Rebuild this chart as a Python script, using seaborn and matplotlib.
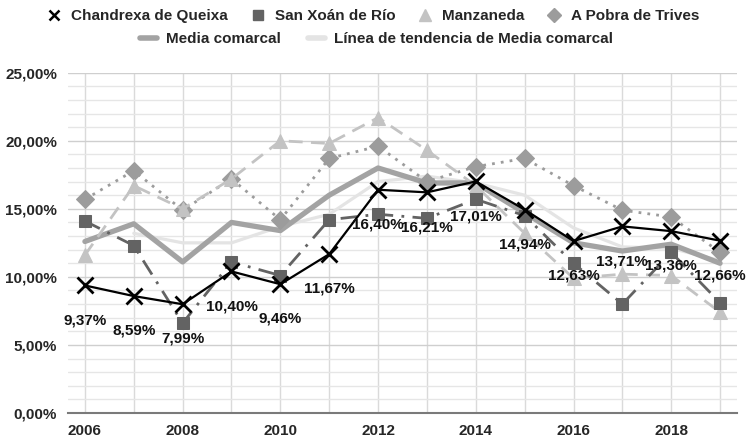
import matplotlib
matplotlib.use("Agg")
import matplotlib.pyplot as plt
import seaborn as sns
import pandas as pd
from matplotlib.lines import Line2D
from matplotlib.ticker import MultipleLocator, FuncFormatter

years = list(range(2006, 2020))
chandrexa = [9.37, 8.59, 7.99, 10.40, 9.46, 11.67, 16.40, 16.21, 17.01, 14.94, 12.63, 13.71, 13.36, 12.66]
san_xoan = [14.1, 12.3, 6.6, 11.1, 10.1, 14.2, 14.6, 14.3, 15.7, 14.5, 11.0, 8.0, 11.8, 8.1]
manzaneda = [11.6, 16.7, 15.0, 17.2, 20.0, 19.8, 21.7, 19.3, 16.7, 13.2, 9.9, 10.2, 10.1, 7.4]
pobra = [15.7, 17.8, 14.9, 17.2, 14.2, 18.7, 19.6, 17.0, 18.1, 18.7, 16.7, 14.9, 14.4, 11.8]
media = [12.6, 13.9, 11.1, 14.0, 13.4, 16.0, 18.0, 16.9, 16.9, 14.7, 12.5, 11.9, 12.4, 11.0]
trend_years = list(range(2007, 2020))
trend = [13.2, 12.5, 12.5, 13.7, 14.6, 17.0, 17.4, 16.9, 16.0, 13.6, 12.2, 12.1, 11.2]
even_labels = [str(y) if y % 2 == 0 else "" for y in years]

names = ["Chandrexa de Queixa", "San Xoán de Río", "Manzaneda", "A Pobra de Trives",
         "Media comarcal", "Línea de tendencia de Media comarcal"]

sns.set_style("white")
plt.rcParams['font.family'] = ['Liberation Sans', 'DejaVu Sans']
plt.rcParams['font.weight'] = 'bold'

fig = plt.figure(figsize=(7.46, 4.40), dpi=100)
ax = fig.add_axes([68.3/746, 1-413/440, (736.7-68.3)/746, (413-72.7)/440])

c_ch, c_sx, c_mz, c_pb, c_md, c_tr = "#000000", "#636363", "#c3c3c3", "#9c9c9c", "#a3a3a3", "#e4e4e4"

sns.lineplot(x=trend_years, y=trend, ax=ax, color=c_tr, linewidth=2.3, zorder=2)
sns.lineplot(x=years, y=media, ax=ax, color=c_md, linewidth=3.8, zorder=3)
sns.lineplot(x=years, y=pobra, ax=ax, color=c_pb, linewidth=2.0, linestyle=(0, (1, 2.2)),
             marker="D", markersize=9.5, markeredgecolor=c_pb, markerfacecolor=c_pb, zorder=4)
sns.lineplot(x=years, y=manzaneda, ax=ax, color=c_mz, linewidth=2.0, linestyle=(0, (5, 3)),
             marker="^", markersize=10.5, markeredgecolor=c_mz, markerfacecolor=c_mz, zorder=5)
sns.lineplot(x=years, y=san_xoan, ax=ax, color=c_sx, linewidth=2.0, linestyle=(0, (6, 3, 1, 3)),
             marker="s", markersize=8.5, markeredgecolor=c_sx, markerfacecolor=c_sx, zorder=6)
sns.lineplot(x=years, y=chandrexa, ax=ax, color=c_ch, linewidth=1.6,
             marker="x", markersize=11, markeredgewidth=2.0, markeredgecolor=c_ch, zorder=7)

for yr, v in zip(years, chandrexa):
    ax.annotate(f"{v:.2f}".replace(".", ",") + "%", xy=(yr, v), xytext=(0, -25),
                textcoords="offset points", ha="center", va="center",
                fontsize=11, fontweight="bold", color="#111111", zorder=8)

ax.set_xlim(2005.66, 2019.34)
ax.set_ylim(0, 25)
ax.set_xticks(years)
ax.set_xticklabels(even_labels)
ax.yaxis.set_major_locator(MultipleLocator(5))
ax.yaxis.set_minor_locator(MultipleLocator(1))
ax.yaxis.set_major_formatter(FuncFormatter(lambda v, p: f"{v:.2f}".replace(".", ",") + "%"))
ax.grid(which="major", axis="y", color="#cfcfcf", linewidth=1.0)
ax.grid(which="minor", axis="y", color="#e6e6e6", linewidth=1.0)
ax.grid(which="major", axis="x", color="#dadada", linewidth=1.0)
ax.set_axisbelow(True)
ax.tick_params(which="both", length=0)
ax.tick_params(axis="y", pad=8, labelsize=11)
ax.tick_params(axis="x", pad=8, labelsize=11)
for lab in ax.get_xticklabels() + ax.get_yticklabels():
    lab.set_fontweight("bold")
for s in ["top", "right", "left"]:
    ax.spines[s].set_visible(False)
ax.spines["bottom"].set_color("#7a7a7a")
ax.spines["bottom"].set_linewidth(1.5)
ax.set_xlabel("")
ax.set_ylabel("")

h1 = [
    Line2D([], [], linestyle="none", marker="x", color=c_ch, markersize=7, markeredgewidth=1.8),
    Line2D([], [], linestyle="none", marker="s", color=c_sx, markersize=7.5),
    Line2D([], [], linestyle="none", marker="^", color=c_mz, markersize=8),
    Line2D([], [], linestyle="none", marker="D", color=c_pb, markersize=7.5),
]
h2 = [
    Line2D([], [], color=c_md, linewidth=4),
    Line2D([], [], color=c_tr, linewidth=4),
]
leg1 = fig.legend(h1, names[:4], loc="center", bbox_to_anchor=(0.5, 1 - 16/440), ncol=4,
                  frameon=False, handlelength=1.0, handletextpad=0.6,
                  columnspacing=1.45, prop={"weight": "bold", "size": 11})
leg2 = fig.legend(h2, names[4:], loc="center", bbox_to_anchor=(0.505, 1 - 39/440), ncol=2,
                  frameon=False, handlelength=1.1, handletextpad=0.6,
                  columnspacing=1.8, prop={"weight": "bold", "size": 11})

fig.savefig("out.png", dpi=100)
